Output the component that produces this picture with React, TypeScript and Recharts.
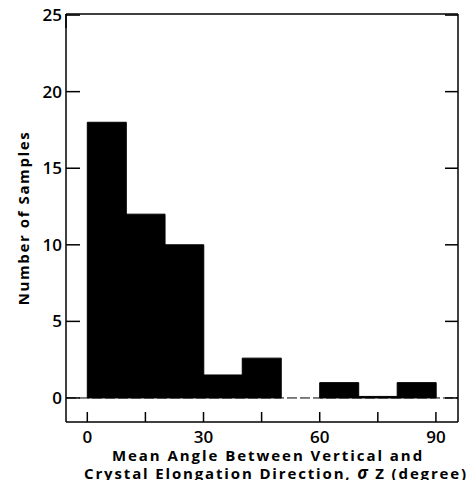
import { BarChart, Bar, XAxis, YAxis, ReferenceLine } from "recharts";

// histogram bins (degrees) and sample counts
const binStarts = [0, 10, 20, 30, 40, 50, 60, 70, 80];
const binWidth = 10;
const counts = [18, 12, 10, 1.5, 2.6, 0, 1, 0.1, 1];

const xTicks = [0, 15, 30, 45, 60, 75, 90];
const xLabelTicks = [0, 30, 60, 90];
const yTicks = [0, 5, 10, 15, 20, 25];

const data = binStarts.map((start, i) => ({
  mid: start + binWidth / 2,
  count: counts[i],
}));

const font = "'Open Sans', 'DejaVu Sans', sans-serif";
const tickStyle = { fontSize: 17, fill: "#000", fontFamily: font, fontWeight: 600 };
const xDomain = [-5.5, 95.7];
const yDomain = [-1.57, 25.07];

export default function App() {
  return (
    <div style={{ margin: -8, width: 474, height: 488, overflow: "hidden" }}>
      <BarChart
        width={474}
        height={488}
        data={data}
        margin={{ top: 14, right: 16, left: 0, bottom: 0 }}
        barCategoryGap={0}
        barGap={0}
      >
        <XAxis
          dataKey="mid"
          type="number"
          domain={xDomain}
          ticks={xTicks}
          allowDataOverflow
          height={66}
          stroke="#000"
          strokeWidth={1.5}
          tickSize={-10}
          tickMargin={19}
          tick={tickStyle}
          tickFormatter={(v) => (xLabelTicks.includes(v) ? String(v) : "")}
        />
        <XAxis
          xAxisId="top"
          orientation="top"
          type="number"
          domain={xDomain}
          ticks={xTicks}
          allowDataOverflow
          height={1}
          mirror
          stroke="#000"
          strokeWidth={1.5}
          tickSize={14}
          tickFormatter={() => ""}
        />
        <YAxis
          type="number"
          domain={yDomain}
          ticks={yTicks}
          allowDataOverflow
          width={66}
          stroke="#000"
          strokeWidth={1.5}
          tickSize={-14}
          tickMargin={18}
          tick={tickStyle}
        />
        <YAxis
          yAxisId="right"
          orientation="right"
          type="number"
          domain={yDomain}
          ticks={yTicks}
          allowDataOverflow
          width={1}
          mirror
          stroke="#000"
          strokeWidth={1.5}
          tickSize={13}
          tickFormatter={() => ""}
        />
        <ReferenceLine y={0} stroke="#000" strokeWidth={1} strokeDasharray="10 3" />
        <Bar dataKey="count" fill="#000" stroke="#000" strokeWidth={1} isAnimationActive={false} />
        <text
          x={23}
          y={218}
          transform="rotate(-90 23 218)"
          textAnchor="middle"
          dominantBaseline="central"
          style={{ fontFamily: font, fontSize: 15, fontWeight: 700, letterSpacing: 1.6 }}
        >
          Number of Samples
        </text>
        <text
          x={268}
          y={461}
          textAnchor="middle"
          style={{ fontFamily: font, fontSize: 15, fontWeight: 700, letterSpacing: 1.95 }}
        >
          Mean Angle Between Vertical and
        </text>
        <text
          x={276}
          y={479}
          textAnchor="middle"
          style={{ fontFamily: font, fontSize: 15, fontWeight: 700, letterSpacing: 1.85 }}
        >
          Crystal Elongation Direction, <tspan fontStyle="italic" fontSize={17}>σ</tspan> Z (degree)
        </text>
      </BarChart>
    </div>
  );
}
